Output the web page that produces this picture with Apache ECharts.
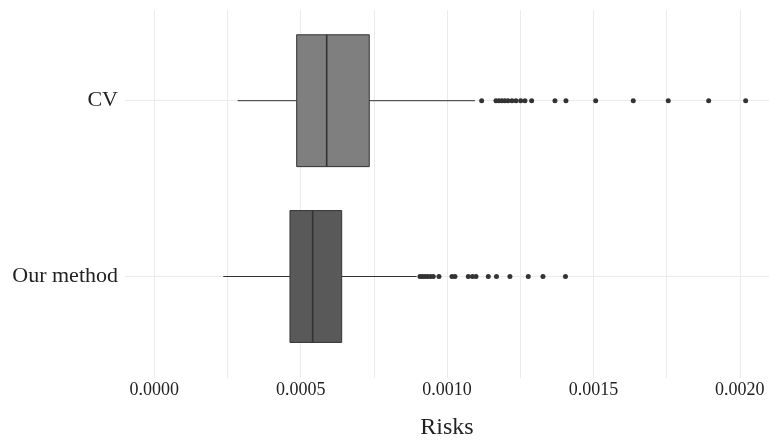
<!DOCTYPE html>
<html>
<head>
<meta charset="utf-8">
<script src="https://cdn.jsdelivr.net/npm/echarts@6/dist/echarts.min.js"></script>
<style>
  html, body { margin: 0; padding: 0; background: #ffffff; }
  #chart { width: 769px; height: 441px; }
</style>
</head>
<body>
<div id="chart"></div>
<script>
// Methods, bottom to top on the vertical axis
const categories = ['Our method', 'CV'];

// Box summaries: [lower whisker, Q1, median, Q3, upper whisker]
const ourStats = [0.0002357, 0.0004636, 0.0005411, 0.0006402, 0.0008964];
const cvStats  = [0.000285, 0.0004865, 0.000589, 0.0007345, 0.0010956];

// Points beyond the whiskers
const ourOutliers = [0.0009077, 0.0009162, 0.0009247, 0.0009333, 0.0009435, 0.0009531,
  0.0009726, 0.001017, 0.0010272, 0.0010727, 0.001087, 0.001099, 0.001141, 0.001169,
  0.001215, 0.0012776, 0.0013278, 0.0014047];
const cvOutliers = [0.0011184, 0.0011673, 0.0011775, 0.0011878, 0.001198, 0.0012083,
  0.0012219, 0.0012356, 0.0012517, 0.0012664, 0.0012892, 0.0013688, 0.0014064,
  0.0015079, 0.0016363, 0.0017559, 0.0018939, 0.0020203];

// Labelled ticks on the risk axis
const xTicks = [0, 0.0005, 0.001, 0.0015, 0.002];

const boxFill = ['#595959', '#7f7f7f'];
const ink = '#333333';
const gridGrey = '#ebebeb';
const font = '"Liberation Serif", "Times New Roman", serif';

const boxData = [[0].concat(ourStats), [1].concat(cvStats)];
const outlierData = ourOutliers.map(v => [v, categories[0]])
  .concat(cvOutliers.map(v => [v, categories[1]]));

function renderBox(params, api) {
  const cat = api.value(0);
  const lo = api.coord([api.value(1), cat]);
  const q1 = api.coord([api.value(2), cat]);
  const md = api.coord([api.value(3), cat]);
  const q3 = api.coord([api.value(4), cat]);
  const hi = api.coord([api.value(5), cat]);
  const half = api.size([0, 1])[1] * 0.375;
  const y = lo[1];
  const lineStyle = { stroke: ink, lineWidth: 1 };
  return {
    type: 'group',
    children: [
      { type: 'line', shape: { x1: lo[0], y1: y, x2: q1[0], y2: y }, style: lineStyle },
      { type: 'line', shape: { x1: q3[0], y1: y, x2: hi[0], y2: y }, style: lineStyle },
      { type: 'rect', shape: { x: q1[0], y: y - half, width: q3[0] - q1[0], height: half * 2 },
        style: { fill: boxFill[params.dataIndex], stroke: ink, lineWidth: 1 } },
      { type: 'line', shape: { x1: md[0], y1: y - half, x2: md[0], y2: y + half },
        style: { stroke: ink, lineWidth: 1.6 } }
    ]
  };
}

const chart = echarts.init(document.getElementById('chart'), null, { renderer: 'canvas' });

chart.setOption({
  animation: false,
  backgroundColor: '#ffffff',
  grid: [
    // vertical grid lines, tick labels and axis title
    { left: 154.3, top: 10, width: 585.45, height: 368, outerBoundsMode: 'none' },
    // horizontal grid lines through the category centres
    { left: 125, right: 0, top: -75.1, height: 527.4, outerBoundsMode: 'none' },
    // boxes and outliers
    { left: 125, right: 0, top: 12.8, height: 351.6, outerBoundsMode: 'none' }
  ],
  xAxis: [
    {
      gridIndex: 0, type: 'value', min: 0, max: 0.002, interval: 0.00025,
      axisLine: { show: false }, axisTick: { show: false },
      splitLine: { show: true, lineStyle: { color: gridGrey, width: 1 } },
      axisLabel: {
        margin: 3, color: '#222', fontFamily: font, fontSize: 18,
        formatter: v => xTicks.some(t => Math.abs(t - v) < 1e-9) ? v.toFixed(4) : ''
      },
      name: 'Risks', nameLocation: 'middle', nameGap: 38,
      nameTextStyle: { color: '#222', fontFamily: font, fontSize: 24 }
    },
    { gridIndex: 1, type: 'value', min: 0, max: 1, show: false },
    { gridIndex: 2, type: 'value', min: -0.0001, max: 0.0021, show: false }
  ],
  yAxis: [
    { gridIndex: 0, type: 'value', show: false },
    {
      gridIndex: 1, type: 'value', min: 0, max: 3, interval: 1,
      axisLine: { show: false }, axisTick: { show: false }, axisLabel: { show: false },
      splitLine: { show: true, lineStyle: { color: gridGrey, width: 1 } }
    },
    {
      gridIndex: 2, type: 'category', data: categories,
      axisLine: { show: false }, axisTick: { show: false }, splitLine: { show: false },
      axisLabel: { margin: 7, color: '#222', fontFamily: font, fontSize: 22 }
    }
  ],
  series: [
    {
      type: 'custom', xAxisIndex: 2, yAxisIndex: 2,
      renderItem: renderBox,
      encode: { x: [1, 2, 3, 4, 5], y: 0 },
      data: boxData, z: 3
    },
    {
      type: 'scatter', xAxisIndex: 2, yAxisIndex: 2,
      symbol: 'circle', symbolSize: 5,
      itemStyle: { color: ink, opacity: 1 },
      data: outlierData, z: 4, clip: false
    }
  ]
});
</script>
</body>
</html>
